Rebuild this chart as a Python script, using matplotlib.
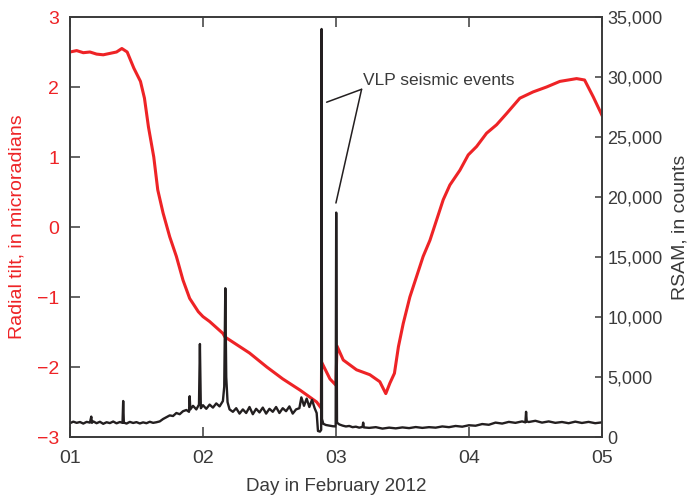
import matplotlib
matplotlib.use("Agg")
import matplotlib.pyplot as plt
from matplotlib import font_manager

# pick a narrow sans if present
names = {f.name for f in font_manager.fontManager.ttflist}
fam = ["Liberation Sans Narrow", "Liberation Sans", "DejaVu Sans"]
fam = [f for f in fam if f in names] or ["DejaVu Sans"]
plt.rcParams["font.family"] = fam

RED = "#ee2326"
BLACK = "#231f20"
AXC = "#3a3a3a"

# radial tilt (microradians)
tilt_day = [1.00, 1.05, 1.10, 1.15, 1.20, 1.25, 1.30, 1.35, 1.39, 1.43,
            1.48, 1.53, 1.56, 1.59, 1.63, 1.66, 1.70, 1.75, 1.80, 1.85,
            1.90, 1.965, 2.00, 2.05, 2.15, 2.165, 2.35, 2.48, 2.60, 2.73,
            2.855, 2.89, 2.892, 2.955, 3.000, 3.008, 3.055, 3.155, 3.255, 3.33,
            3.375, 3.406, 3.44, 3.47, 3.506, 3.556, 3.606, 3.656, 3.707, 3.757,
            3.807, 3.857, 3.932, 3.995, 4.058, 4.133, 4.208, 4.283, 4.383, 4.483,
            4.584, 4.684, 4.81, 4.87, 4.935, 5.00]
tilt_val = [2.50, 2.52, 2.49, 2.50, 2.47, 2.46, 2.48, 2.50, 2.55, 2.50,
            2.27, 2.08, 1.84, 1.43, 1.00, 0.53, 0.20, -0.14, -0.42, -0.76,
            -1.02, -1.21, -1.28, -1.35, -1.52, -1.57, -1.80, -2.00, -2.17, -2.33,
            -2.50, -2.59, -1.93, -2.17, -2.26, -1.70, -1.90, -2.04, -2.11, -2.21,
            -2.38, -2.23, -2.09, -1.71, -1.38, -1.00, -0.71, -0.42, -0.19, 0.10,
            0.39, 0.60, 0.81, 1.03, 1.15, 1.34, 1.46, 1.62, 1.84, 1.93,
            2.00, 2.08, 2.12, 2.10, 1.86, 1.60]

# RSAM (counts)
rsam_day = [1.000, 1.025, 1.050, 1.075, 1.100, 1.125, 1.150, 1.160, 1.165, 1.175,
            1.200, 1.225, 1.250, 1.275, 1.300, 1.325, 1.350, 1.375, 1.395, 1.400,
            1.405, 1.425, 1.450, 1.475, 1.500, 1.525, 1.550, 1.575, 1.600, 1.625,
            1.650, 1.675, 1.700, 1.725, 1.750, 1.775, 1.800, 1.825, 1.850, 1.875,
            1.895, 1.900, 1.905, 1.925, 1.950, 1.970, 1.977, 1.984, 2.000, 2.025,
            2.050, 2.075, 2.100, 2.125, 2.150, 2.160, 2.168, 2.175, 2.185, 2.200,
            2.225, 2.250, 2.275, 2.300, 2.325, 2.350, 2.375, 2.400, 2.425, 2.450,
            2.475, 2.500, 2.525, 2.550, 2.575, 2.600, 2.625, 2.650, 2.675, 2.700,
            2.725, 2.740, 2.760, 2.780, 2.800, 2.820, 2.840, 2.855, 2.865, 2.880,
            2.889, 2.892, 2.895, 2.905, 2.925, 2.950, 2.975, 2.998, 3.002, 3.008,
            3.025, 3.050, 3.075, 3.100, 3.125, 3.150, 3.175, 3.200, 3.205, 3.210,
            3.250, 3.300, 3.350, 3.400, 3.450, 3.500, 3.550, 3.600, 3.650, 3.700,
            3.750, 3.800, 3.850, 3.900, 3.950, 4.000, 4.050, 4.100, 4.150, 4.200,
            4.250, 4.300, 4.350, 4.400, 4.425, 4.430, 4.435, 4.450, 4.500, 4.550,
            4.600, 4.650, 4.700, 4.750, 4.800, 4.850, 4.900, 4.950, 5.000]
rsam_val = [1150, 1280, 1180, 1250, 1120, 1260, 1200, 1700, 1180, 1300,
            1150, 1270, 1100, 1230, 1160, 1290, 1140, 1250, 1180, 3000,
            1200, 1120, 1260, 1170, 1240, 1130, 1220, 1150, 1270, 1180,
            1230, 1300, 1500, 1650, 1800, 1750, 2000, 1900, 2150, 2250,
            2100, 3400, 2300, 2600, 2300, 2700, 7750, 2400, 2650, 2350,
            2700, 2450, 2800, 2550, 3000, 4200, 12400, 5000, 2900, 2300,
            2100, 2400, 1950, 2300, 2000, 2500, 1900, 2350, 2050, 2450,
            1950, 2350, 2100, 2500, 2000, 2400, 2150, 2550, 1950, 2300,
            2400, 3300, 2600, 3200, 2500, 3100, 2400, 2000, 500, 450,
            600, 34000, 1500, 1100, 1000, 950, 900, 880, 18700, 1200,
            1050, 950, 880, 920, 820, 860, 780, 840, 1200, 800,
            760, 820, 700, 780, 720, 800, 740, 830, 760, 820,
            780, 880, 820, 920, 860, 980, 940, 1080, 1020, 1200,
            1120, 1260, 1180, 1300, 1220, 2100, 1300, 1250, 1350, 1200,
            1300, 1180, 1250, 1150, 1280, 1170, 1260, 1150, 1220]

fig = plt.figure(figsize=(6.91, 5.03), dpi=100)
ax = fig.add_axes([0.1013, 0.1312, 0.7697, 0.8350])
ax2 = ax.twinx()

ax.plot(tilt_day, tilt_val, color=RED, linewidth=2.2, solid_joinstyle="round")
ax2.plot(rsam_day, rsam_val, color=BLACK, linewidth=1.7)

ax.set_xlim(1, 5)
ax.set_ylim(-3, 3)
ax2.set_ylim(0, 35000)

ax.set_xticks([1, 2, 3, 4, 5])
ax.set_xticklabels(["01", "02", "03", "04", "05"])
ax.set_yticks([-3, -2, -1, 0, 1, 2, 3])
ax2.set_yticks(range(0, 35001, 5000))
ax2.set_yticklabels(["0", "5,000", "10,000", "15,000", "20,000", "25,000",
                     "30,000", "35,000"])

ax.tick_params(axis="x", direction="in", length=7, width=1.1, color=AXC,
               labelsize=14, labelcolor=AXC, pad=9, top=True)
ax.tick_params(axis="y", direction="in", length=7, width=1.1, color=AXC,
               labelsize=14, labelcolor=RED, pad=8)
ax2.tick_params(axis="y", direction="in", length=5, width=1.1, color=AXC,
                labelsize=13, labelcolor=AXC, pad=4)

for a in (ax, ax2):
    for s in a.spines.values():
        s.set_color(AXC)
        s.set_linewidth(1.2)

ax.set_xlabel("Day in February 2012", fontsize=13.5, color=AXC, labelpad=8)
ax.set_ylabel("Radial tilt, in microradians", fontsize=14, color=RED,
              labelpad=8)
ax2.set_ylabel("RSAM, in counts", fontsize=14, color=AXC, labelpad=6)

# annotation: two leader lines to the VLP spikes
ax2.annotate("", xy=(2.930, 27900), xytext=(3.193, 28975),
             arrowprops=dict(arrowstyle="-", color=BLACK, lw=1.1,
                             shrinkA=0, shrinkB=0))
ax2.annotate("", xy=(3.0, 19500), xytext=(3.193, 28975),
             arrowprops=dict(arrowstyle="-", color=BLACK, lw=1.1,
                             shrinkA=0, shrinkB=0))
ax2.text(3.205, 29700, "VLP seismic events", fontsize=12.5, color=AXC,
         ha="left", va="center")

fig.savefig("out.png", dpi=100)
